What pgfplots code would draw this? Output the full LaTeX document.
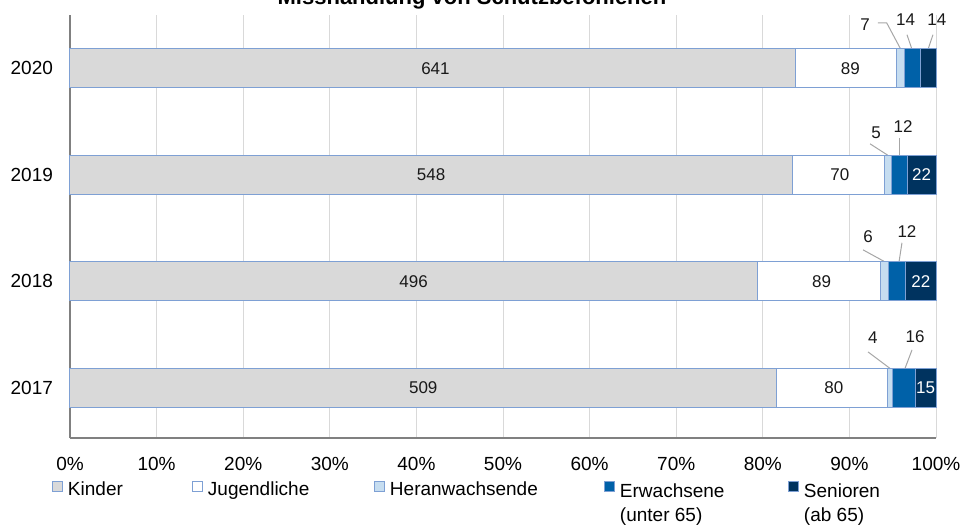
\documentclass[border=0pt]{standalone}
\usepackage{fontspec}
\setmainfont{Liberation Sans}
\usepackage{pgfplots}
\usepackage{pgfplotstable}
\pgfplotsset{compat=1.18}

\definecolor{kinder}{HTML}{D9D9D9}
\definecolor{hera}{HTML}{C6DDF0}
\definecolor{erw}{HTML}{0061A8}
\definecolor{sen}{HTML}{00335F}
\definecolor{edge}{HTML}{7EA0D4}
\definecolor{gridc}{HTML}{D9D9D9}
\definecolor{axisc}{HTML}{808080}
\definecolor{leaderc}{HTML}{A6A6A6}

% Faelle je Jahr und Altersgruppe
\pgfplotstableread{
pos year kinder jug hera erw sen total
1   2017 509    80  4    16  15  624
2   2018 496    89  6    12  22  625
3   2019 548    70  5    12  22  657
4   2020 641    89  7    14  14  765
}\faelle

\begin{document}
\begin{tikzpicture}[
    lbl/.style={font=\fontsize{8.5}{10}\selectfont, inner sep=0pt, text=black!90},
    leader/.style={leaderc, line width=0.5pt},
]
\begin{axis}[
    scale only axis,
    width=433pt, height=211.5pt,
    xbar stacked, bar width=19.5pt,
    xmin=0, xmax=100, ymin=0.53, ymax=4.5,
    axis lines*=left,
    axis line style={axisc, line width=1.4pt},
    xtick={0,10,...,100},
    xticklabel={\pgfmathprintnumber{\tick}\%},
    /pgf/number format/assume math mode=true,
    ytick={1,2,3,4}, yticklabels={2017,2018,2019,2020},
    major tick length=0pt,
    xmajorgrids, grid style={gridc, line width=0.5pt},
    tick label style={font=\fontsize{9.5}{11}\selectfont, black},
    x tick label style={yshift=-6pt},
    y tick label style={xshift=-5pt},
    clip=false,
    legend columns=5,
    legend cell align=left,
    legend image code/.code={\draw[#1, line width=0.5pt] (0pt,-0.75pt) rectangle (5pt,4.25pt);},
    legend style={at={(-0.0208,-0.1)}, anchor=north west, draw=none, fill=none,
        inner sep=0pt, outer sep=0pt,
        nodes={inner sep=0pt, font=\fontsize{9.5}{12}\selectfont},
        /tikz/every odd column/.append style={column sep=2.5pt},
        /tikz/every even column/.append style={column sep=0pt}},
    after end axis/.code={
        % Beschriftung in den Balken
        \node[lbl] at (axis cs:40.79,1) {509};
        \node[lbl] at (axis cs:39.68,2) {496};
        \node[lbl] at (axis cs:41.70,3) {548};
        \node[lbl] at (axis cs:42.20,4) {641};
        \node[lbl] at (axis cs:88.20,1) {80};
        \node[lbl] at (axis cs:86.80,2) {89};
        \node[lbl] at (axis cs:88.90,3) {70};
        \node[lbl] at (axis cs:90.10,4) {89};
        \node[lbl, text=white] at (axis cs:98.80,1) {15};
        \node[lbl, text=white] at (axis cs:98.24,2) {22};
        \node[lbl, text=white] at (axis cs:98.33,3) {22};
    },
]
\addplot[fill=kinder, draw=edge, line width=0.5pt]
    table[y=pos, x expr=\thisrow{kinder}/\thisrow{total}*100] {\faelle};
\addlegendentry{\makebox[62pt][l]{Kinder}}
\addplot[fill=white, draw=edge, line width=0.5pt]
    table[y=pos, x expr=\thisrow{jug}/\thisrow{total}*100] {\faelle};
\addlegendentry{\makebox[83pt][l]{Jugendliche}}
\addplot[fill=hera, draw=edge, line width=0.5pt]
    table[y=pos, x expr=\thisrow{hera}/\thisrow{total}*100] {\faelle};
\addlegendentry{\makebox[107pt][l]{Heranwachsende}}
\addplot[fill=erw, draw=edge, line width=0.5pt]
    table[y=pos, x expr=\thisrow{erw}/\thisrow{total}*100] {\faelle};
\addlegendentry{\makebox[84pt][l]{\begin{tabular}[t]{@{}l@{}}Erwachsene\\(unter 65)\end{tabular}}}
\addplot[fill=sen, draw=edge, line width=0.5pt]
    table[y=pos, x expr=\thisrow{sen}/\thisrow{total}*100] {\faelle};
\addlegendentry{\begin{tabular}[t]{@{}l@{}}Senioren\\(ab 65)\end{tabular}}

% Beschriftung mit Fuehrungslinien
% 2020
\node[lbl] at (axis cs:91.8,4.408) {7};
\draw[leader] (axis cs:93.3,4.427) -- (axis cs:94.3,4.427) -- (axis cs:95.9,4.183);
\node[lbl] at (axis cs:96.5,4.455) {14};
\draw[leader] (axis cs:96.65,4.315) -- (axis cs:97.2,4.183);
\node[lbl] at (axis cs:100.1,4.455) {14};
\draw[leader] (axis cs:99.65,4.315) -- (axis cs:99.1,4.183);
% 2019
\node[lbl] at (axis cs:93.07,3.394) {5};
\draw[leader] (axis cs:92.38,3.291) -- (axis cs:94.45,3.183);
\node[lbl] at (axis cs:96.19,3.451) {12};
\draw[leader] (axis cs:95.73,3.347) -- (axis cs:95.73,3.183);
% 2018
\node[lbl] at (axis cs:92.15,2.418) {6};
\draw[leader] (axis cs:91.57,2.296) -- (axis cs:94.11,2.183);
\node[lbl] at (axis cs:96.65,2.465) {12};
\draw[leader] (axis cs:96.07,2.362) -- (axis cs:95.73,2.183);
% 2017
\node[lbl] at (axis cs:92.7,1.469) {4};
\draw[leader] (axis cs:92.15,1.338) -- (axis cs:94.69,1.183);
\node[lbl] at (axis cs:97.58,1.479) {16};
\draw[leader] (axis cs:97.23,1.357) -- (axis cs:96.42,1.183);
\end{axis}

\node[font=\bfseries\fontsize{11}{13}\selectfont, anchor=base] at (201pt,216.5pt)
    {Misshandlung von Schutzbefohlenen};
\pgfresetboundingbox
\path[use as bounding box] (-35pt,-43.5pt) rectangle (446.5pt,219pt);
\end{tikzpicture}
\end{document}
